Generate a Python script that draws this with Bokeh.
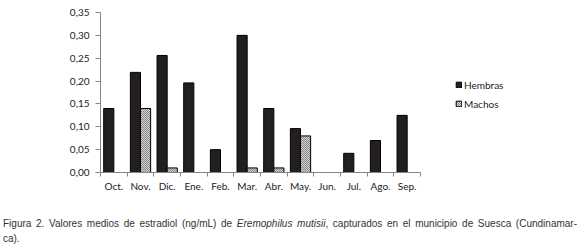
from bokeh.plotting import figure
from bokeh.models import (Range1d, FixedTicker, CustomJSTickFormatter, Legend,
                          LegendItem, ColumnDataSource, Div)
from bokeh.layouts import column
from bokeh.transform import dodge
from bokeh.embed import file_html
from bokeh.resources import INLINE

nan = float("nan")
months = ["Oct.", "Nov.", "Dic.", "Ene.", "Feb.", "Mar.", "Abr.", "May.",
          "Jun.", "Jul.", "Ago.", "Sep."]
hembras = [0.14, 0.219, 0.256, 0.196, 0.05, 0.30, 0.14, 0.096, nan, 0.042, 0.07, 0.125]
machos = [nan, 0.14, 0.01, nan, nan, 0.01, 0.01, 0.08, nan, nan, nan, nan]
y_ticks = [0.0, 0.05, 0.10, 0.15, 0.20, 0.25, 0.30, 0.35]
series_names = ["Hembras", "Machos"]
caption_1 = "Figura 2. Valores medios de estradiol (ng/mL) de "
caption_italic = "Eremophilus mutisii"
caption_2 = ", capturados en el municipio de Suesca (Cundinamar-"
caption_3 = "ca)."

n = len(months)
xs = [i + 0.5 for i in range(n)]
src = ColumnDataSource(dict(x=xs, h=hembras, m=machos))

FONT = "Lato"
TXT = "#222222"
AX = "#868686"

# frame spans 100..580 px; the categories occupy the first 320 px of it
p = figure(width=580, height=214, output_backend="svg", toolbar_location=None,
           x_range=Range1d(0, n * 480 / 320), y_range=Range1d(0, 0.35),
           min_border_left=100, min_border_right=0, min_border_top=12,
           min_border_bottom=42)
p.outline_line_color = None
p.xgrid.visible = False
p.ygrid.visible = False
p.background_fill_color = "white"
p.border_fill_color = "white"

r1 = p.vbar(x=dodge("x", -0.19, range=p.x_range), top="h", width=0.38, source=src,
            fill_color="#231f20", line_color="black", line_width=1)
r2 = p.vbar(x=dodge("x", 0.19, range=p.x_range), top="m", width=0.38, source=src,
            fill_color="#d4d4d4", line_color="black", line_width=1,
            hatch_pattern="diagonal_cross", hatch_color="#808080", hatch_scale=2,
            hatch_weight=1)

# x axis: minor ticks at the category boundaries, labels at the centres
p.xaxis.bounds = (0, n)
p.xaxis.ticker = FixedTicker(ticks=xs, minor_ticks=list(range(n + 1)))
p.xaxis.major_label_overrides = {x: m for x, m in zip(xs, months)}
p.xaxis.major_tick_out = 0
p.xaxis.major_tick_in = 0
p.xaxis.minor_tick_out = 4
p.xaxis.minor_tick_in = 0
p.xaxis.minor_tick_line_color = AX
p.xaxis.axis_line_color = AX
p.xaxis.major_label_standoff = 3

p.yaxis.ticker = FixedTicker(ticks=y_ticks, minor_ticks=[])
p.yaxis.formatter = CustomJSTickFormatter(code="return tick.toFixed(2).replace('.', ',');")
p.yaxis.major_tick_out = 5
p.yaxis.major_tick_in = 0
p.yaxis.minor_tick_line_color = None
p.yaxis.major_tick_line_color = AX
p.yaxis.axis_line_color = AX
p.yaxis.major_label_standoff = 6

for ax in (p.xaxis, p.yaxis):
    ax.major_label_text_font = FONT
    ax.major_label_text_font_size = "10px"
    ax.major_label_text_color = TXT

legend = Legend(items=[LegendItem(label=series_names[0], renderers=[r1]),
                       LegendItem(label=series_names[1], renderers=[r2])],
                location=(355, 59), padding=0, margin=0, spacing=0,
                glyph_width=7, glyph_height=7, label_height=19, label_standoff=2,
                label_text_font=FONT, label_text_font_size="10px",
                label_text_color=TXT, border_line_color=None,
                background_fill_alpha=0)
p.add_layout(legend, "center")

caption_html = (
    '<div style="text-align:justify;text-align-last:justify;width:574px;">'
    + caption_1 + "<i>" + caption_italic + "</i>" + caption_2 + "</div>"
    + "<div>" + caption_3 + "</div>"
)
cap = Div(text=caption_html, width=580, height=33, margin=0,
          styles={"font-family": "Liberation Sans", "font-size": "10px",
                  "line-height": "15px", "color": "#333333",
                  "padding-left": "3px", "padding-top": "2px"})

layout = column(p, cap, spacing=0)
open("out.html", "w").write(file_html(layout, INLINE))
